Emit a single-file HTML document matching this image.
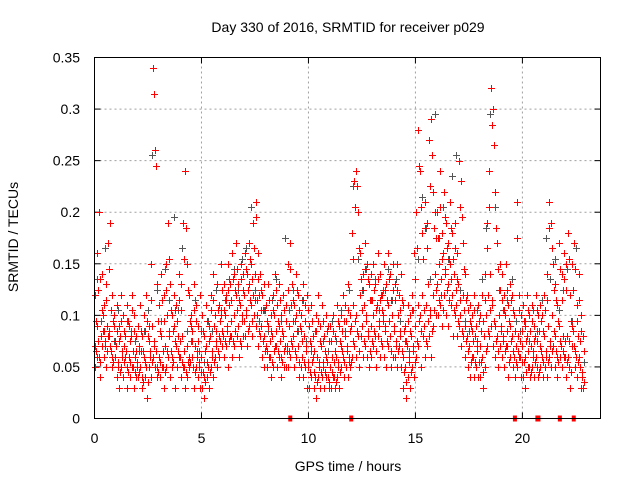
<!DOCTYPE html>
<html><head><meta charset="utf-8">
<style>
html,body{margin:0;padding:0;background:#fff;}
svg{display:block;font-family:"Liberation Sans",sans-serif;}
</style></head>
<body>
<svg id="chart" width="640" height="480" viewBox="0 0 640 480" xmlns="http://www.w3.org/2000/svg">
<rect width="640" height="480" fill="#fff"/>
<text x="348" y="32" font-size="14" text-anchor="middle" fill="#000">Day 330 of 2016, SRMTID for receiver p029</text>
<text transform="translate(18,237) rotate(-90)" font-size="14" text-anchor="middle" fill="#000">SRMTID / TECUs</text>
<text x="348" y="471" font-size="14" text-anchor="middle" fill="#000">GPS time / hours</text>
<g id="grid"></g>
<g id="ticks"></g>
<g id="marks"></g>
<rect x="94.5" y="57.5" width="506" height="361" fill="none" stroke="#000" stroke-width="1"/>
</svg>
<script>
const xTicks=[0,5,10,15,20];
const yTicks=[0,0.05,0.1,0.15,0.2,0.25,0.3,0.35];
const yTickLabels=["0","0.05","0.1","0.15","0.2","0.25","0.3","0.35"];
const step=0.1;
const upperVals=[.12,.16,.20,.14,.11,.13,.17,.19,.12,.10,
.11,.09,.12,.10,.08,.11,.09,.12,.10,.08,
.09,.11,.08,.10,.12,.09,.15,.34,.26,.13,
.11,.14,.12,.15,.19,.13,.10,.12,.11,.14,
.13,.19,.24,.15,.12,.10,.13,.11,.09,.12,
.10,.08,.11,.09,.12,.14,.10,.13,.11,.15,
.13,.12,.15,.13,.16,.14,.17,.13,.15,.14,
.16,.14,.17,.15,.19,.21,.16,.14,.12,.13,
.11,.13,.10,.12,.14,.11,.13,.10,.12,.11,
.15,.17,.13,.11,.14,.12,.10,.13,.11,.12,
.09,.11,.08,.10,.12,.09,.11,.08,.10,.09,
.09,.10,.08,.11,.09,.10,.12,.11,.13,.10,
.18,.23,.24,.20,.16,.14,.17,.15,.13,.14,
.15,.13,.16,.14,.12,.15,.13,.16,.14,.15,
.13,.15,.12,.14,.11,.09,.11,.10,.12,.16,
.20,.28,.24,.18,.21,.19,.27,.29,.22,.20,
.20,.24,.18,.22,.19,.17,.21,.18,.19,.16,
.25,.23,.17,.14,.12,.11,.10,.12,.09,.11,
.10,.12,.14,.19,.24,.32,.30,.22,.17,.15,
.14,.12,.15,.11,.13,.12,.10,.21,.12,.10,
.11,.09,.12,.10,.11,.09,.12,.10,.11,.10,
.12,.14,.21,.19,.15,.13,.11,.17,.14,.16,
.15,.18,.12,.15,.17,.11,.14,.10,.08,null];
const midHighVals=[.095,.125,.135,.105,.085,.115,.145,.105,.095,.075,
.085,.075,.095,.085,.065,.095,.075,.105,.085,.065,
.065,.085,.065,.085,.095,.075,.115,.315,.245,.095,
.085,.115,.095,.125,.155,.105,.085,.105,.095,.115,
.105,.155,.185,.125,.095,.085,.105,.095,.075,.085,
.085,.065,.095,.075,.105,.115,.085,.105,.095,.125,
.105,.115,.125,.115,.135,.125,.145,.115,.135,.125,
.145,.125,.155,.135,.165,.195,.135,.125,.105,.105,
.095,.115,.085,.105,.125,.095,.115,.085,.105,.095,
.125,.145,.115,.095,.125,.105,.085,.115,.095,.105,
.075,.095,.065,.085,.095,.075,.095,.065,.085,.075,
.075,.085,.065,.095,.075,.085,.095,.095,.105,.085,
.155,.205,.225,.165,.135,.125,.145,.135,.115,.115,
.125,.105,.135,.115,.105,.125,.115,.135,.115,.125,
.115,.125,.105,.115,.085,.075,.095,.085,.105,.135,
.165,.245,.205,.155,.185,.165,.225,.255,.185,.175,
.175,.205,.155,.195,.165,.155,.185,.155,.165,.135,
.205,.195,.145,.115,.105,.095,.085,.105,.075,.095,
.085,.095,.115,.165,.205,.285,.265,.185,.145,.125,
.115,.105,.125,.095,.115,.105,.085,.175,.105,.085,
.095,.075,.105,.085,.095,.075,.105,.085,.095,.085,
.105,.115,.185,.165,.125,.115,.095,.145,.115,.135,
.125,.155,.095,.125,.145,.095,.115,.085,.065,null];
const midVals=[.07,.09,.06,.08,.10,.07,.09,.08,.06,.09,
.07,.05,.08,.06,.07,.05,.06,.08,.05,.06,
.05,.07,.04,.06,.05,.08,.06,.09,.07,.05,
.06,.08,.05,.07,.10,.08,.06,.09,.07,.08,
.06,.08,.05,.07,.06,.09,.05,.07,.06,.05,
.06,.04,.07,.05,.08,.06,.09,.07,.08,.10,
.08,.10,.09,.11,.08,.10,.12,.09,.11,.10,
.12,.10,.13,.11,.12,.14,.10,.12,.09,.08,
.07,.09,.06,.08,.10,.07,.09,.06,.08,.07,
.07,.09,.11,.08,.10,.07,.09,.06,.08,.07,
.05,.07,.06,.04,.06,.05,.07,.05,.06,.04,
.05,.06,.04,.06,.05,.07,.06,.08,.07,.06,
.09,.11,.10,.08,.12,.09,.11,.10,.08,.09,
.10,.08,.11,.09,.12,.10,.09,.11,.08,.10,
.09,.07,.10,.08,.06,.05,.07,.06,.08,.07,
.09,.11,.10,.12,.09,.11,.13,.10,.12,.14,
.13,.15,.12,.16,.14,.13,.15,.12,.14,.11,
.13,.10,.12,.09,.08,.07,.09,.06,.08,.07,
.07,.06,.08,.10,.12,.14,.11,.09,.08,.10,
.09,.08,.10,.07,.09,.08,.06,.07,.08,.06,
.07,.06,.08,.05,.07,.06,.08,.05,.07,.06,
.08,.06,.09,.07,.10,.08,.06,.09,.07,.08,
.06,.08,.05,.09,.07,.06,.08,.05,.04,null];
const midLowVals=[.065,.075,.055,.085,.075,.065,.085,.065,.055,.075,
.055,.045,.065,.055,.065,.045,.055,.065,.045,.055,
.045,.065,.035,.055,.035,.065,.055,.075,.065,.045,
.055,.065,.045,.065,.085,.065,.055,.075,.065,.075,
.055,.065,.045,.055,.055,.075,.045,.065,.055,.045,
.045,.035,.055,.045,.065,.055,.075,.065,.075,.085,
.075,.085,.075,.095,.075,.085,.105,.075,.095,.095,
.105,.085,.115,.095,.115,.115,.085,.105,.075,.065,
.065,.075,.055,.065,.085,.065,.075,.055,.065,.065,
.065,.075,.095,.065,.085,.055,.075,.055,.065,.055,
.045,.055,.045,.035,.055,.045,.055,.045,.055,.035,
.045,.055,.035,.055,.045,.065,.055,.065,.055,.055,
.075,.095,.085,.065,.105,.075,.095,.085,.065,.075,
.085,.065,.095,.075,.095,.085,.075,.095,.065,.085,
.075,.065,.085,.065,.045,.035,.055,.045,.065,.055,
.075,.095,.085,.105,.075,.095,.105,.085,.105,.125,
.115,.135,.105,.145,.125,.115,.135,.105,.125,.095,
.115,.085,.105,.075,.065,.055,.075,.055,.065,.055,
.055,.045,.065,.085,.105,.115,.095,.075,.065,.085,
.075,.065,.085,.055,.075,.065,.055,.065,.075,.055,
.055,.045,.065,.045,.065,.055,.075,.045,.065,.055,
.065,.055,.075,.065,.085,.065,.055,.075,.065,.075,
.055,.075,.045,.085,.065,.055,.075,.045,.035,null];
const lowerVals=[.05,.06,.04,.07,.06,.05,.08,.07,.05,.06,
.04,.03,.05,.04,.06,.03,.04,.05,.03,.04,
.04,.05,.03,.04,.02,.05,.04,.06,.05,.04,
.04,.05,.03,.05,.06,.04,.05,.03,.05,.06,
.04,.05,.03,.04,.05,.06,.03,.05,.04,.03,
.03,.02,.04,.03,.05,.04,.06,.05,.06,.07,
.06,.07,.05,.08,.06,.07,.08,.06,.07,.08,
.08,.07,.09,.08,.10,.09,.07,.08,.06,.05,
.05,.06,.04,.05,.07,.05,.06,.04,.05,.05,
.05,.06,.07,.05,.06,.04,.05,.04,.05,.03,
.03,.04,.03,.02,.04,.03,.04,.03,.04,.03,
.03,.04,.03,.04,.03,.05,.04,.05,.04,.05,
.06,.07,.06,.05,.08,.06,.07,.06,.05,.06,
.07,.05,.08,.06,.07,.06,.05,.07,.05,.06,
.06,.05,.07,.05,.03,.02,.04,.03,.05,.04,
.06,.07,.05,.08,.06,.07,.08,.06,.09,.10,
.10,.11,.09,.12,.10,.09,.11,.08,.10,.08,
.09,.07,.08,.06,.05,.04,.06,.04,.05,.04,
.04,.03,.05,.07,.08,.09,.07,.06,.05,.07,
.06,.05,.07,.04,.06,.05,.04,.05,.06,.04,
.04,.03,.05,.04,.05,.04,.06,.04,.05,.04,
.05,.04,.06,.05,.07,.05,.04,.06,.05,.06,
.04,.06,.03,.07,.05,.04,.06,.03,.03,null];
const greyStep=0.2;
const greyVals=[.13,.09,.16,.08,.07,.10,.06,.09,.08,.07,
.06,.08,.10,.25,.12,.09,.14,.11,.19,.10,
.16,.08,.07,.11,.06,.05,.09,.08,.12,.10,
.11,.13,.14,.12,.15,.16,.20,.12,.09,.10,
.08,.11,.13,.09,.17,.10,.12,.08,.11,.07,
.06,.08,.05,.07,.06,.09,.07,.10,.08,.12,
.22,.15,.12,.14,.11,.13,.10,.12,.14,.11,
.13,.09,.07,.06,.10,.15,.21,.18,.13,.29,
.17,.20,.15,.23,.25,.12,.09,.08,.07,.10,
.13,.18,.29,.20,.12,.10,.11,.13,.09,.08,
.09,.07,.10,.08,.11,.17,.13,.15,.10,.12,
.14,.09,.16,.07,.05];
const zeroTimes=[9.15,12.0,19.65,20.7,20.75,21.75,22.4];

const X0=94.5,X1=600.5,Y0=418.5,Y1=57.5,XMAX=23.65,YMAX=0.35;
function xs(t){return X0+(X1-X0)*t/XMAX;}
function ys(v){return Y0-(Y0-Y1)*v/YMAX;}
const NS="http://www.w3.org/2000/svg";
const grid=document.getElementById('grid'),ticks=document.getElementById('ticks'),marks=document.getElementById('marks');
function mk(tag,attrs,parent){const e=document.createElementNS(NS,tag);for(const k in attrs)e.setAttribute(k,attrs[k]);parent.appendChild(e);return e;}
xTicks.forEach(t=>{
  const x=xs(t);
  if(t>0){const g=mk('line',{x1:x,x2:x,y1:Y0,y2:Y1,stroke:'#a0a0a0','stroke-dasharray':'2,3'},grid);
  
  }
  mk('line',{x1:x,x2:x,y1:Y0,y2:Y0-6,stroke:'#000'},ticks);
  mk('line',{x1:x,x2:x,y1:Y1,y2:Y1+6,stroke:'#000'},ticks);
  const l=mk('text',{x:x,y:443,'font-size':14,'text-anchor':'middle',fill:'#000'},ticks);
  l.textContent=String(t);
  
  
});
yTicks.forEach((v,i)=>{
  const y=ys(v);
  if(i>0&&i<yTicks.length-1){const g=mk('line',{x1:X0,x2:X1,y1:y,y2:y,stroke:'#a0a0a0','stroke-dasharray':'2,3'},grid);
  
  }
  mk('line',{x1:X0,x2:X0+6,y1:y,y2:y,stroke:'#000'},ticks);
  mk('line',{x1:X1,x2:X1-6,y1:y,y2:y,stroke:'#000'},ticks);
  const l=mk('text',{x:80,y:y+5,'font-size':14,'text-anchor':'end',fill:'#000'},ticks);
  l.textContent=yTickLabels[i];
  
  
});
function plus(t,v,color,name){
  const x=Math.round(xs(t))+0.5,y=Math.round(ys(v))+0.5;
  const p=mk('path',{d:`M${x-3.5} ${y}H${x+3.5}M${x} ${y-3.5}V${y+3.5}`,stroke:color,'stroke-width':1,fill:'none'},marks);
  
  
}
greyVals.forEach((v,i)=>{if(v!=null)plus(i*greyStep+0.1,v+0.005,'#555','grey-point');});
const redSeries=[[upperVals,0.03],[midHighVals,0.06],[midVals,0.0],[midLowVals,0.08],[lowerVals,0.04]];
redSeries.forEach(s=>s[0].forEach((v,i)=>{if(v!=null)plus(i*step+s[1],v,'#ff0000','red-point');}));
zeroTimes.forEach(t=>{
  const x=xs(t);
  const r=mk('rect',{x:x-2,y:Y0-3,width:4,height:6,fill:'#ff0000'},marks);
  
  
});
</script>
</body></html>
